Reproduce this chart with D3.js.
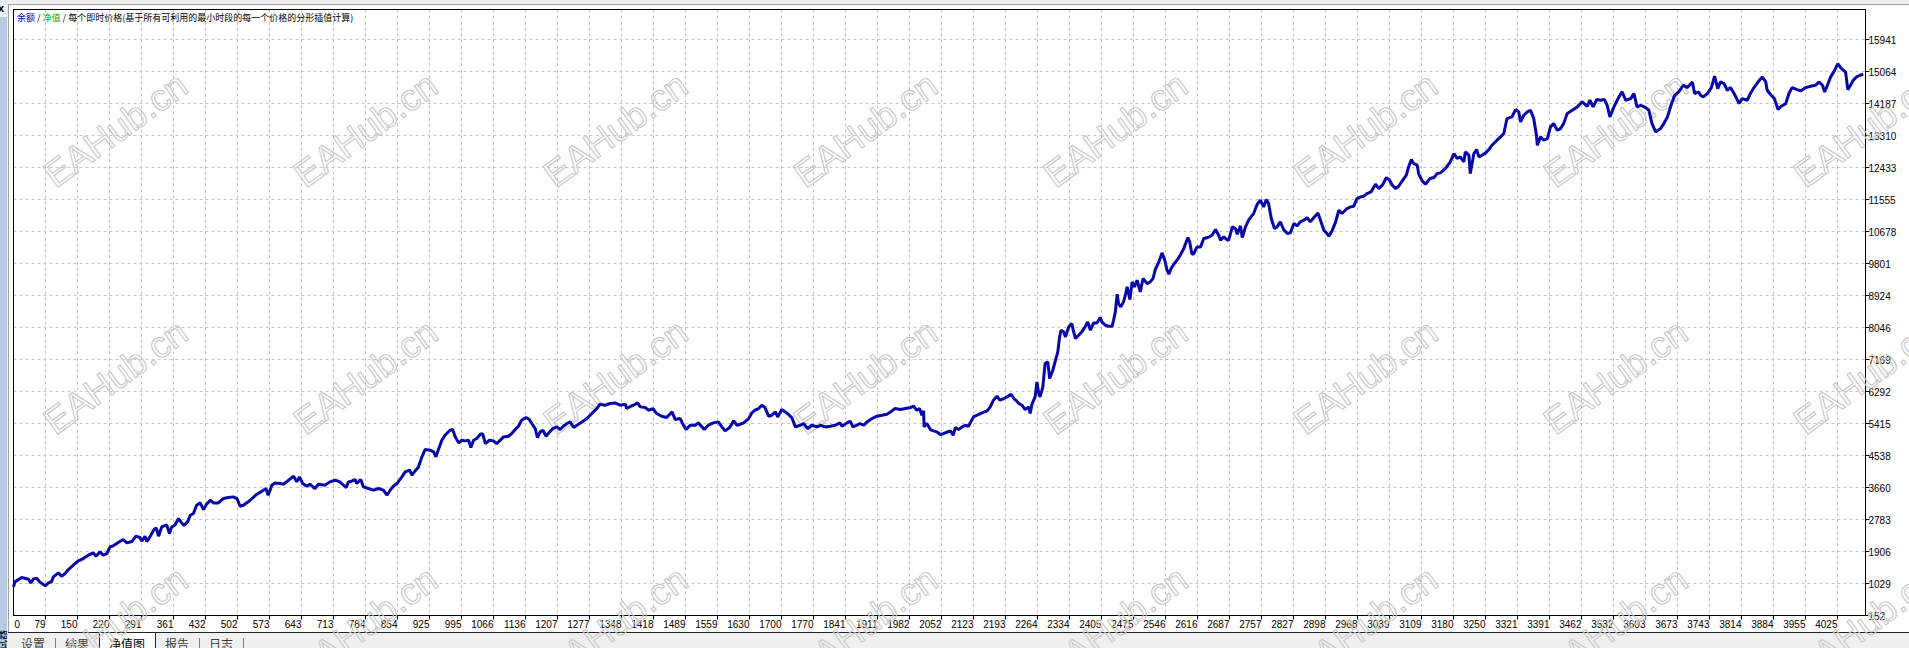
<!DOCTYPE html>
<html>
<head>
<meta charset="utf-8">
<script src="https://cdn.jsdelivr.net/npm/d3@7"></script>
<style>
  body { margin: 0; background: #f0f0f0; overflow: hidden; }
  svg { display: block; }
</style>
</head>
<body>
<div id="chart"></div>
<script>
// tick labels as printed on the tester's equity chart
const xLabels = ["0","79","150","220","291","361","432","502","573","643","713","784","854","925","995",
  "1066","1136","1207","1277","1348","1418","1489","1559","1630","1700","1770","1841","1911","1982",
  "2052","2123","2193","2264","2334","2405","2475","2546","2616","2687","2757","2827","2898","2968",
  "3039","3109","3180","3250","3321","3391","3462","3532","3603","3673","3743","3814","3884","3955","4025"];
const yLabels = [152, 1029, 1906, 2783, 3660, 4538, 5415, 6292, 7169, 8046, 8924, 9801,
  10678, 11555, 12433, 13310, 14187, 15064, 15941];

const tabNames = ["设置", "结果", "净值图", "报告", "日志"];
const activeTab = "净值图";
const legendParts = [
  { text: "余额", color: "#0000c8" },
  { text: " / ", color: "#000" },
  { text: "净值", color: "#00b000" },
  { text: " / 每个即时价格(基于所有可利用的最小时段的每一个价格的分形插值计算)", color: "#000" }
];
const watermark = "EAHub.cn";

// balance curve, [trade #, balance] in five stretches
const balanceEarly = [[0,937],[3,1074],[18,1193],[33,1147],[38,1047],[44,1156],[51,1174],[58,1074],[70,964],
  [77,1047],[84,1083],[88,1211],[99,1321],[106,1229],[114,1302],[121,1412],[132,1531],[143,1649],[154,1713],
  [165,1805],[176,1869],[182,1777],[191,1896],[198,1805],[206,1851],[213,2033],[220,2061],[231,2152],[242,2235],
  [250,2143],[261,2179],[270,2326],[279,2289],[283,2189],[290,2326],[294,2179],[301,2307],[310,2508],[315,2554],
  [320,2326],[327,2581],[338,2636],[344,2399],[349,2581],[356,2627],[364,2810],[371,2691],[376,2618],[384,2718],
  [390,2901],[397,2947],[404,3175],[412,3239],[419,3057],[426,3203],[434,3312],[441,3239],[452,3239],[463,3358],
  [474,3385],[485,3404],[493,3358],[500,3148],[507,3175],[518,3267],[526,3358],[537,3477],[548,3559],[557,3632],
  [562,3450],[570,3724],[577,3787],[588,3769],[596,3751],[607,3861],[618,3970],[625,3815],[631,3952],[638,3769],
  [647,3696],[654,3751],[665,3632],[673,3751],[687,3723],[698,3815],[710,3861],[720,3815],[728,3723],[734,3659],
  [739,3815],[746,3833],[754,3879],[757,3769],[766,3879],[772,3678],[783,3632],[794,3587],[805,3632],[816,3587],
  [824,3450],[831,3587],[838,3696],[846,3769],[857,3952]];

const balancePlateau = [[864,4089],[874,4134],[879,3997],[886,4116],[893,4208],[901,4500],[908,4701],[919,4683],
  [927,4637],[932,4500],[938,4719],[945,4957],[952,5094],[963,5231],[969,5249],[974,5066],[982,4884],[989,4957],
  [996,4939],[1004,4957],[1009,4756],[1015,4957],[1022,5003],[1030,5121],[1035,5139],[1041,4865],[1050,4957],
  [1059,4939],[1066,4865],[1074,4957],[1081,5048],[1092,5066],[1099,5139],[1107,5249],[1114,5341],[1121,5505],
  [1131,5578],[1138,5523],[1146,5368],[1151,5277],[1156,5030],[1162,5185],[1168,5231],[1175,5066],[1183,5185],
  [1190,5277],[1199,5322],[1206,5249],[1213,5341],[1221,5414],[1228,5459],[1236,5304],[1243,5368],[1254,5459],
  [1265,5551],[1276,5688],[1287,5825],[1294,5944],[1305,5916],[1316,5962],[1327,5980],[1338,5916],[1350,5944],
  [1353,5825],[1362,5889],[1368,5916],[1377,5980],[1383,5871],[1394,5852],[1401,5779],[1411,5825],[1419,5688],
  [1430,5615],[1441,5578],[1453,5733],[1460,5523],[1471,5551],[1478,5368],[1484,5249],[1493,5368],[1504,5368],
  [1511,5432],[1519,5322],[1524,5249],[1533,5368],[1544,5432],[1555,5459],[1563,5322],[1570,5213],[1580,5304],
  [1589,5487],[1596,5368],[1603,5395],[1611,5432],[1622,5551],[1629,5706],[1636,5779],[1644,5825],[1651,5916],
  [1658,5852],[1666,5615],[1673,5642],[1681,5733],[1686,5596],[1695,5797],[1706,5706],[1717,5578],[1725,5322],
  [1736,5368],[1743,5414],[1752,5277],[1761,5368],[1773,5322],[1780,5368]];

const balanceBreakout = [[1791,5322],[1802,5340],[1813,5368],[1823,5432],[1828,5340],[1839,5432],[1846,5478],
  [1852,5322],[1861,5368],[1867,5414],[1876,5368],[1883,5459],[1894,5551],[1905,5615],[1916,5642],[1927,5670],
  [1938,5761],[1945,5825],[1957,5797],[1968,5825],[1979,5852],[1986,5889],[1993,5779],[1999,5825],[2004,5642],
  [2008,5761],[2009,5322],[2015,5414],[2023,5249],[2030,5212],[2037,5185],[2045,5112],[2052,5140],[2059,5176],
  [2067,5212],[2073,5094],[2078,5304],[2085,5249],[2093,5322],[2100,5368],[2107,5340],[2112,5459],[2118,5596],
  [2126,5642],[2137,5706],[2148,5761],[2155,5870],[2162,6053],[2170,6163],[2176,6053],[2185,6099],[2192,6145],
  [2201,6218],[2207,6099],[2213,6035],[2218,5962],[2225,5916],[2232,5797],[2240,5870],[2243,5688],[2247,5944],
  [2254,6145],[2258,6556],[2262,6236],[2265,6145],[2271,6419],[2276,7058],[2282,7104],[2286,6647],[2293,6875],
  [2299,7150],[2304,7378],[2308,7789],[2311,7972],[2317,7926],[2321,7789],[2328,8063],[2335,8155],[2339,7926],
  [2343,7743],[2350,7835],[2357,7926],[2365,8082],[2370,8200],[2376,7972],[2383,8173],[2390,8173],[2398,8319],
  [2401,8200],[2409,8109],[2416,8082],[2424,8082],[2427,8246],[2431,8474],[2435,8959],[2438,8703],[2443,8612],
  [2449,8749],[2453,8931],[2457,9160],[2463,8813],[2468,9297],[2473,9160],[2479,9342],[2486,9023],[2492,9388],
  [2501,9251],[2508,9297],[2514,9388],[2519,9635],[2527,9845],[2534,10092],[2540,9891],[2545,9617],[2549,9507],
  [2554,9662],[2560,9781],[2567,9891],[2574,10028],[2582,10210],[2591,10512],[2595,10393],[2600,10055],
  [2604,10073],[2611,10256],[2619,10256],[2626,10485],[2635,10512],[2644,10576],[2652,10731],[2659,10576],
  [2663,10439]];

const balanceClimb = [[2670,10530],[2677,10457],[2681,10439],[2689,10804],[2696,10759],[2700,10603],[2707,10832],
  [2711,10512],[2718,10804],[2725,10987],[2736,11170],[2744,11426],[2751,11536],[2758,11353],[2764,11554],
  [2769,11444],[2775,11033],[2782,10759],[2788,10804],[2795,10942],[2803,10713],[2811,10622],[2817,10640],
  [2825,10896],[2832,10832],[2839,10942],[2847,10987],[2854,11060],[2861,10942],[2869,11060],[2878,11188],
  [2883,11006],[2891,10713],[2898,10622],[2902,10549],[2909,10695],[2917,10942],[2924,11261],[2931,11170],
  [2942,11307],[2950,11353],[2957,11371],[2964,11581],[2972,11627],[2979,11645],[2986,11718],[2995,11764],
  [3005,11974],[3012,11855],[3020,11947],[3029,12157],[3036,12084],[3042,11947],[3049,11855],[3056,11919],
  [3064,12065],[3073,12221],[3078,12449],[3084,12650],[3089,12541],[3097,12495],[3100,12266],[3108,12065],
  [3115,11974],[3125,12129],[3134,12157],[3141,12266],[3148,12285],[3159,12403],[3170,12586],[3178,12815],
  [3185,12678],[3192,12723],[3200,12586],[3203,12860],[3211,12769],[3214,12266],[3222,12815],[3228,12924],
  [3233,12723],[3240,12769],[3248,12833],[3255,12924],[3262,13043],[3273,13180],[3281,13272],[3288,13363],
  [3295,13774],[3306,13820],[3314,14021],[3321,13957],[3325,13683]];

const balanceLate = [[3332,13865],[3340,13956],[3347,14002],[3354,13773],[3360,13317],[3362,13042],[3369,13271],
  [3376,13179],[3384,13225],[3391,13545],[3398,13636],[3406,13454],[3413,13500],[3420,13636],[3428,13911],
  [3439,14002],[3450,14093],[3461,14230],[3472,14111],[3478,14276],[3485,14093],[3493,14294],[3501,14276],
  [3510,14294],[3516,14139],[3522,13819],[3531,14093],[3542,14367],[3549,14504],[3557,14276],[3568,14321],
  [3575,14459],[3582,14093],[3590,14139],[3601,14075],[3608,14002],[3615,13636],[3623,13408],[3634,13500],
  [3641,13636],[3649,13819],[3657,14139],[3665,14413],[3674,14504],[3684,14687],[3693,14623],[3704,14778],
  [3709,14459],[3718,14504],[3722,14413],[3728,14367],[3737,14459],[3746,14623],[3753,14934],[3760,14596],
  [3766,14778],[3774,14733],[3781,14550],[3788,14623],[3796,14459],[3803,14294],[3807,14185],[3814,14321],
  [3825,14276],[3832,14459],[3840,14623],[3849,14778],[3858,14915],[3866,14778],[3869,14550],[3878,14413],
  [3885,14321],[3893,14020],[3900,14111],[3910,14184],[3917,14459],[3924,14623],[3935,14568],[3943,14532],
  [3954,14623],[3965,14660],[3976,14687],[3983,14778],[3991,14687],[3996,14504],[4002,14687],[4009,14915],
  [4016,15053],[4025,15281],[4031,15171],[4037,15098],[4042,15053],[4047,14568],[4053,14687],[4059,14824],
  [4066,14915],[4074,14961],[4081,14989]];

const balance = [...balanceEarly, ...balancePlateau, ...balanceBreakout, ...balanceClimb, ...balanceLate];

const W = 1909, H = 648;
const plot = { left: 13.5, right: 1865.5, top: 9.5, bottom: 615.5 };
const gridColor = "#c4c4c4";
const lineColor = "#0707aa";
const numFont = "'Liberation Sans', Arial, sans-serif";
const cjkFont = "'Noto Sans CJK SC', sans-serif";

const svg = d3.select("#chart").append("svg")
    .attr("width", W)
    .attr("height", H);

// window chrome: grey frame, blue side strip, white chart panel
svg.append("rect").attr("width", W).attr("height", H).attr("fill", "#f0f0f0");
svg.append("rect").attr("x", 0).attr("y", 17).attr("width", 7).attr("height", H - 17).attr("fill", "#b6c9e0");
svg.append("text").attr("x", -2).attr("y", 12)
    .attr("font-family", numFont).attr("font-size", 11).attr("font-weight", "bold").text("x");
svg.append("text")
    .attr("transform", `translate(6,660) rotate(-90)`)
    .attr("font-family", cjkFont).attr("font-size", 10).text("测试器");
svg.append("rect").attr("x", 8.5).attr("y", 4.5).attr("width", W).attr("height", 628)
    .attr("fill", "#fff").attr("stroke", "#a0a0a0");

// scales
const x = d3.scaleLinear().domain([0, 4086]).range([plot.left, plot.right]);
const xTick = d3.scalePoint().domain(xLabels).range([plot.left, plot.left + 32 * (xLabels.length - 1)]);
const y = d3.scaleLinear().domain([152, 15941]).range([plot.bottom, plot.bottom - 32 * (yLabels.length - 1)]);

// dashed grid
const grid = svg.append("g").attr("stroke", gridColor).attr("stroke-dasharray", "3,3");
grid.selectAll("line.v")
    .data(xLabels.slice(1))
    .join("line")
    .attr("class", "v")
    .attr("x1", d => xTick(d)).attr("x2", d => xTick(d))
    .attr("y1", plot.top).attr("y2", plot.bottom);
grid.selectAll("line.h")
    .data(yLabels.slice(1))
    .join("line")
    .attr("class", "h")
    .attr("x1", plot.left).attr("x2", plot.right)
    .attr("y1", d => y(d)).attr("y2", d => y(d));

// frame
svg.append("rect")
    .attr("x", plot.left).attr("y", plot.top)
    .attr("width", plot.right - plot.left).attr("height", plot.bottom - plot.top)
    .attr("fill", "none").attr("stroke", "#000");

// x axis: ticks below frame, labels end at their tick (first one starts there)
const xAxis = svg.append("g").attr("font-family", numFont).attr("font-size", 10);
xAxis.selectAll("line")
    .data(xLabels.slice(1))
    .join("line")
    .attr("x1", d => xTick(d)).attr("x2", d => xTick(d))
    .attr("y1", plot.bottom).attr("y2", plot.bottom + 4)
    .attr("stroke", "#000");
xAxis.selectAll("text")
    .data(xLabels)
    .join("text")
    .attr("x", (d, i) => i === 0 ? xTick(d) + 1 : xTick(d))
    .attr("y", 628)
    .attr("text-anchor", (d, i) => i === 0 ? "start" : "end")
    .text(d => d);

// y axis on the right
const yAxis = svg.append("g").attr("font-family", numFont).attr("font-size", 10);
yAxis.selectAll("line")
    .data(yLabels)
    .join("line")
    .attr("x1", plot.right).attr("x2", plot.right + 4)
    .attr("y1", d => y(d)).attr("y2", d => y(d))
    .attr("stroke", "#000");
yAxis.selectAll("text")
    .data(yLabels)
    .join("text")
    .attr("x", plot.right + 3)
    .attr("y", d => y(d) + 4.5)
    .text(d => d);

// legend line at top left
const legend = svg.append("text")
    .attr("x", 17).attr("y", 20.5)
    .attr("font-family", cjkFont).attr("font-size", 9)
    .attr("xml:space", "preserve");
legend.selectAll("tspan")
    .data(legendParts)
    .join("tspan")
    .attr("fill", d => d.color)
    .text(d => d.text);

// tab strip at the bottom
const tabX = [33, 77, 127, 177, 221];
const tabs = svg.append("g");
tabs.append("line").attr("x1", 8).attr("x2", W).attr("y1", 632.5).attr("y2", 632.5).attr("stroke", "#222");
tabs.append("rect").attr("x", 99.5).attr("y", 632.5).attr("width", 56).attr("height", 20)
    .attr("fill", "#fff").attr("stroke", "#222");
tabs.selectAll("line.sep")
    .data([55.5, 199.5, 243.5])
    .join("line")
    .attr("class", "sep")
    .attr("x1", d => d).attr("x2", d => d)
    .attr("y1", 638).attr("y2", 648)
    .attr("stroke", "#7a7a7a");
tabs.selectAll("text")
    .data(tabNames)
    .join("text")
    .attr("x", (d, i) => tabX[i])
    .attr("y", 649)
    .attr("text-anchor", "middle")
    .attr("font-family", cjkFont)
    .attr("font-size", 12)
    .attr("fill", d => d === activeTab ? "#000" : "#3a3a3a")
    .text(d => d);

// outlined watermark grid
const wm = svg.append("g")
    .attr("font-family", numFont)
    .attr("font-size", 37)
    .attr("fill", "none")
    .attr("stroke", "#c8c8c8")
    .attr("stroke-width", 1.1)
    .attr("text-anchor", "middle");
const wmSpots = d3.cross(d3.range(8), d3.range(3));
wm.selectAll("text")
    .data(wmSpots)
    .join("text")
    .attr("transform", ([c, r]) => `translate(${123 + 250 * c},${140 + 247 * r}) rotate(-36)`)
    .text(watermark);

// balance line
const line = d3.line()
    .x(d => x(d[0]))
    .y(d => y(d[1]));

svg.append("path")
    .datum(balance)
    .attr("fill", "none")
    .attr("stroke", lineColor)
    .attr("stroke-width", 3)
    .attr("stroke-linejoin", "bevel")
    .attr("d", line);
</script>
</body>
</html>
